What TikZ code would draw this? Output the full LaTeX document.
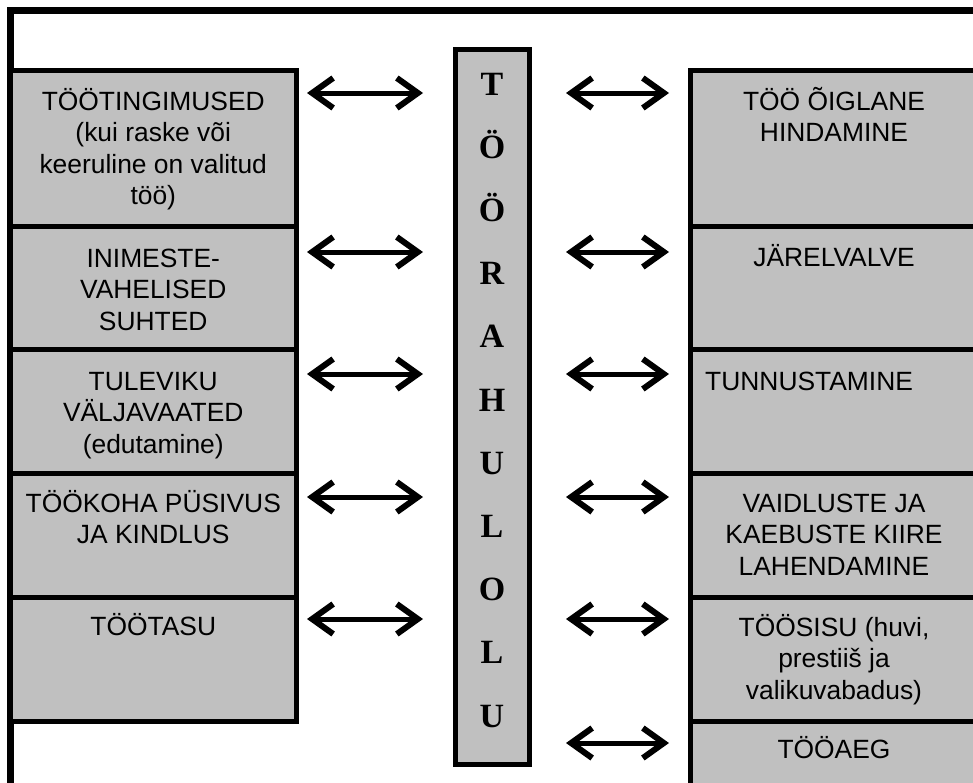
\documentclass[tikz,border=0pt]{standalone}
\usepackage{fontspec}
\setmainfont{Liberation Sans}
\newfontfamily\titleserif{Liberation Serif}
\usetikzlibrary{arrows.meta}
\definecolor{boxgray}{RGB}{192,192,192}
\newcommand{\mlines}[1]{\begin{tabular}[t]{@{}c@{}}#1\end{tabular}}
\tikzset{
  panel/.style={draw=black, fill=boxgray, line width=5pt, anchor=north west, inner sep=0pt, outer sep=0pt},
  txt/.style={anchor=base, inner sep=0pt, font=\fontsize{26.4}{31.5}\selectfont},
  letter/.style={anchor=base, inner sep=0pt, font=\titleserif\bfseries\fontsize{34}{34}\selectfont},
  barb/.tip={Straight Barb[length=21pt,width=30pt,line width=6pt]},
  dblarrow/.style={line width=5pt, barb-barb}
}
\begin{document}
\begin{tikzpicture}[x=1pt,y=-1pt]
\useasboundingbox (0,0) rectangle (973,782);
\clip (0,0) rectangle (973,782);
% outer frame
\draw[line width=7pt] (10.5,820) -- (10.5,10.5) -- (1010,10.5);
% left panels
\node[panel, minimum width=285.5pt, minimum height=156pt] (L1) at (10.5,70) {};
\node[panel, minimum width=285.5pt, minimum height=123pt] (L2) at (10.5,226) {};
\node[panel, minimum width=285.5pt, minimum height=124pt] (L3) at (10.5,349) {};
\node[panel, minimum width=285.5pt, minimum height=124pt] (L4) at (10.5,473) {};
\node[panel, minimum width=285.5pt, minimum height=124pt] (L5) at (10.5,597) {};
% right panels
\node[panel, minimum width=288pt, minimum height=156pt] (R1) at (690,70) {};
\node[panel, minimum width=288pt, minimum height=123pt] (R2) at (690,226) {};
\node[panel, minimum width=288pt, minimum height=124pt] (R3) at (690,349) {};
\node[panel, minimum width=288pt, minimum height=124pt] (R4) at (690,473) {};
\node[panel, minimum width=288pt, minimum height=124pt] (R5) at (690,597) {};
\node[panel, minimum width=288pt, minimum height=124pt] (R6) at (690,721) {};
% centre column
\node[panel, minimum width=74pt, minimum height=715pt] (C) at (455,49) {};
% left texts
\node[txt] (L1t) at ([yshift=-40pt]L1.north) {\mlines{TÖÖTINGIMUSED\\(kui raske või\\keeruline on valitud\\töö)}};
\node[txt] (L2t) at ([yshift=-41pt]L2.north) {\mlines{INIMESTE-\\VAHELISED\\SUHTED}};
\node[txt] (L3t) at ([yshift=-41pt]L3.north) {\mlines{TULEVIKU\\VÄLJAVAATED\\(edutamine)}};
\node[txt] (L4t) at ([yshift=-39pt]L4.north) {\mlines{TÖÖKOHA PÜSIVUS\\JA KINDLUS}};
\node[txt] (L5t) at ([yshift=-38pt]L5.north) {\mlines{TÖÖTASU}};
% right texts
\node[txt] (R1t) at ([yshift=-40pt]R1.north) {\mlines{TÖÖ ÕIGLANE\\HINDAMINE}};
\node[txt] (R2t) at ([yshift=-40pt]R2.north) {\mlines{JÄRELVALVE}};
\node[txt, anchor=base west] (R3t) at ([xshift=15pt,yshift=-41pt]R3.north west) {TUNNUSTAMINE};
\node[txt] (R4t) at ([yshift=-39pt]R4.north) {\mlines{VAIDLUSTE JA\\KAEBUSTE KIIRE\\LAHENDAMINE}};
\node[txt] (R5t) at ([yshift=-39pt]R5.north) {\mlines{TÖÖSISU (huvi,\\prestiiš ja\\valikuvabadus)}};
\node[txt] (R6t) at ([yshift=-37pt]R6.north) {\mlines{TÖÖAEG}};
% centre letters
\node[letter] (c1) at (492,95) {T};
\node[letter] (c2) at (492,158.2) {Ö};
\node[letter] (c3) at (492,221.4) {Ö};
\node[letter] (c4) at (492,284.6) {R};
\node[letter] (c5) at (492,347.8) {A};
\node[letter] (c6) at (492,411) {H};
\node[letter] (c7) at (492,474.2) {U};
\node[letter] (c8) at (492,537.4) {L};
\node[letter] (c9) at (492,600.6) {O};
\node[letter] (c10) at (492,663.8) {L};
\node[letter] (c11) at (492,727) {U};
% arrow end points
\foreach \i/\yy in {1/93,2/252,3/374,4/497,5/619}{
  \coordinate (la\i) at (307,\yy);
  \coordinate (lb\i) at (423,\yy);
}
\foreach \i/\yy in {1/93,2/252,3/374,4/497,5/619,6/743}{
  \coordinate (ra\i) at (566,\yy);
  \coordinate (rb\i) at (669,\yy);
}
\foreach \i in {1,...,5}{\draw[dblarrow] (la\i) -- (lb\i);}
\foreach \i in {1,...,6}{\draw[dblarrow] (ra\i) -- (rb\i);}
\end{tikzpicture}
\end{document}
